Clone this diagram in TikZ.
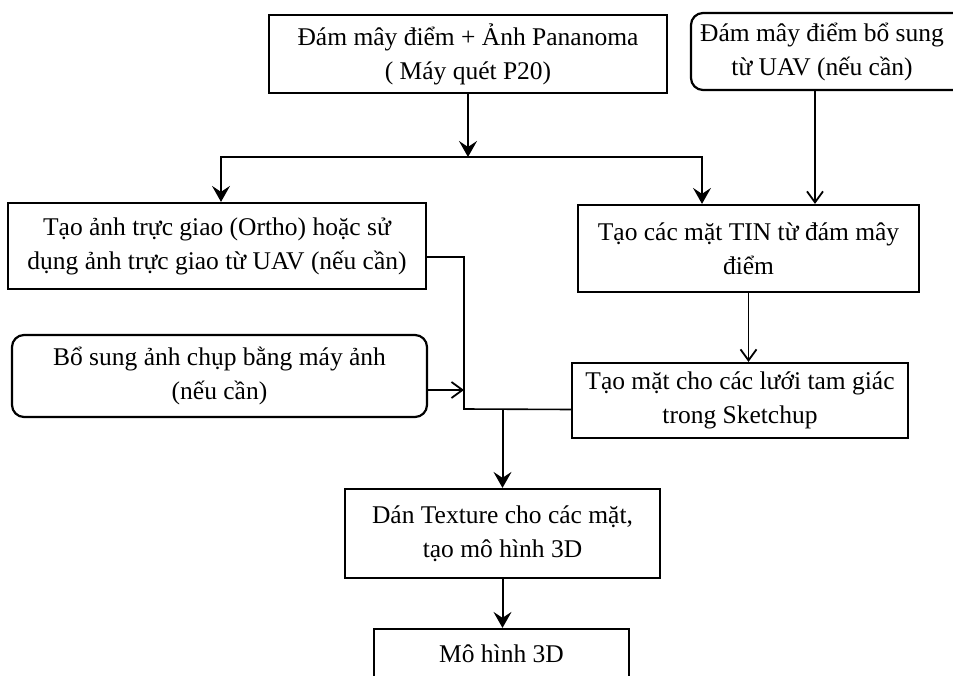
\documentclass[tikz,border=0pt]{standalone}
\usepackage{fontspec}
\setmainfont{Liberation Serif}
\usetikzlibrary{arrows.meta}
\tikzset{
    stage/.style={rectangle,draw,line width=2.2pt,align=center,inner sep=0pt,font=\fontsize{25.5}{34}\selectfont},
    source/.style={stage,rounded corners=12pt},
    flow/.style={-{Stealth[length=16pt,width=18pt,inset=6pt]},line width=2pt},
    feed/.style={-{Straight Barb[length=11pt,width=16pt]},line width=1.8pt},
    link/.style={-,line width=1.6pt}
}

\begin{document}
\begin{tikzpicture}[x=1pt,y=-1pt]
                    \useasboundingbox[fill=white] (0,0) rectangle (953,676);

                    \node[stage,minimum width=398pt,minimum height=78pt] (cloud) at (468,54) {Đám mây điểm + Ảnh Pananoma\\( Máy quét P20)};
                    \node[source,minimum width=400pt,minimum height=77pt] (uav) at (891,51.5) {\begin{tabular}{@{}c@{}}Đám mây điểm bổ sung\\từ UAV (nếu cần)\end{tabular}\hspace*{138pt}};

                    \node[stage,minimum width=418pt,minimum height=86pt] (ortho) at (217,246) {Tạo ảnh trực giao (Ortho) hoặc sử\\dụng ảnh trực giao từ UAV (nếu cần)};
                    \node[stage,minimum width=341pt,minimum height=87pt] (tin) at (748.5,248.5) {Tạo các mặt TIN từ đám mây\\điểm};

                    \node[source,minimum width=415pt,minimum height=82pt] (photo) at (219.5,376) {Bổ sung ảnh chụp bằng máy ảnh\\(nếu cần)};
                    \node[stage,minimum width=336pt,minimum height=75pt] (mesh) at (740,400.5) {Tạo mặt cho các lưới tam giác\\trong Sketchup};

                    \node[stage,minimum width=315pt,minimum height=89pt] (texture) at (502.5,533.5) {Dán Texture cho các mặt,\\tạo mô hình 3D};
                    \node[stage,minimum width=255pt,minimum height=49pt] (model) at (501.5,653.5) {Mô hình 3D};

                    \coordinate (split) at (468,157);
                    \coordinate (merge) at (464,409);
                    \coordinate (join) at (texture.north |- merge);

                    \draw[flow] (cloud.south) -- (split);
                    \draw[flow,line width=1.1pt] (split) -| ([xshift=4pt]ortho.north);
                    \draw[flow,line width=1.6pt] (split) -| ([xshift=-46.5pt]tin.north);
                    \draw[feed] ([xshift=-76pt]uav.south) -- ([xshift=-76pt]uav.south |- tin.north);
                    \draw[feed] (tin.south) -- (tin.south |- mesh.north);
                    \draw[link] ([yshift=-11pt]ortho.east) -| (merge) -- ([yshift=-9pt]mesh.west);
                    \draw[feed] ([yshift=-14pt]photo.east) -- ([yshift=-14pt]photo.east -| merge);
                    \draw[flow] (join) -- (texture.north);
                    \draw[flow] (texture.south) -- (texture.south |- model.north);
                \end{tikzpicture}
\end{document}
